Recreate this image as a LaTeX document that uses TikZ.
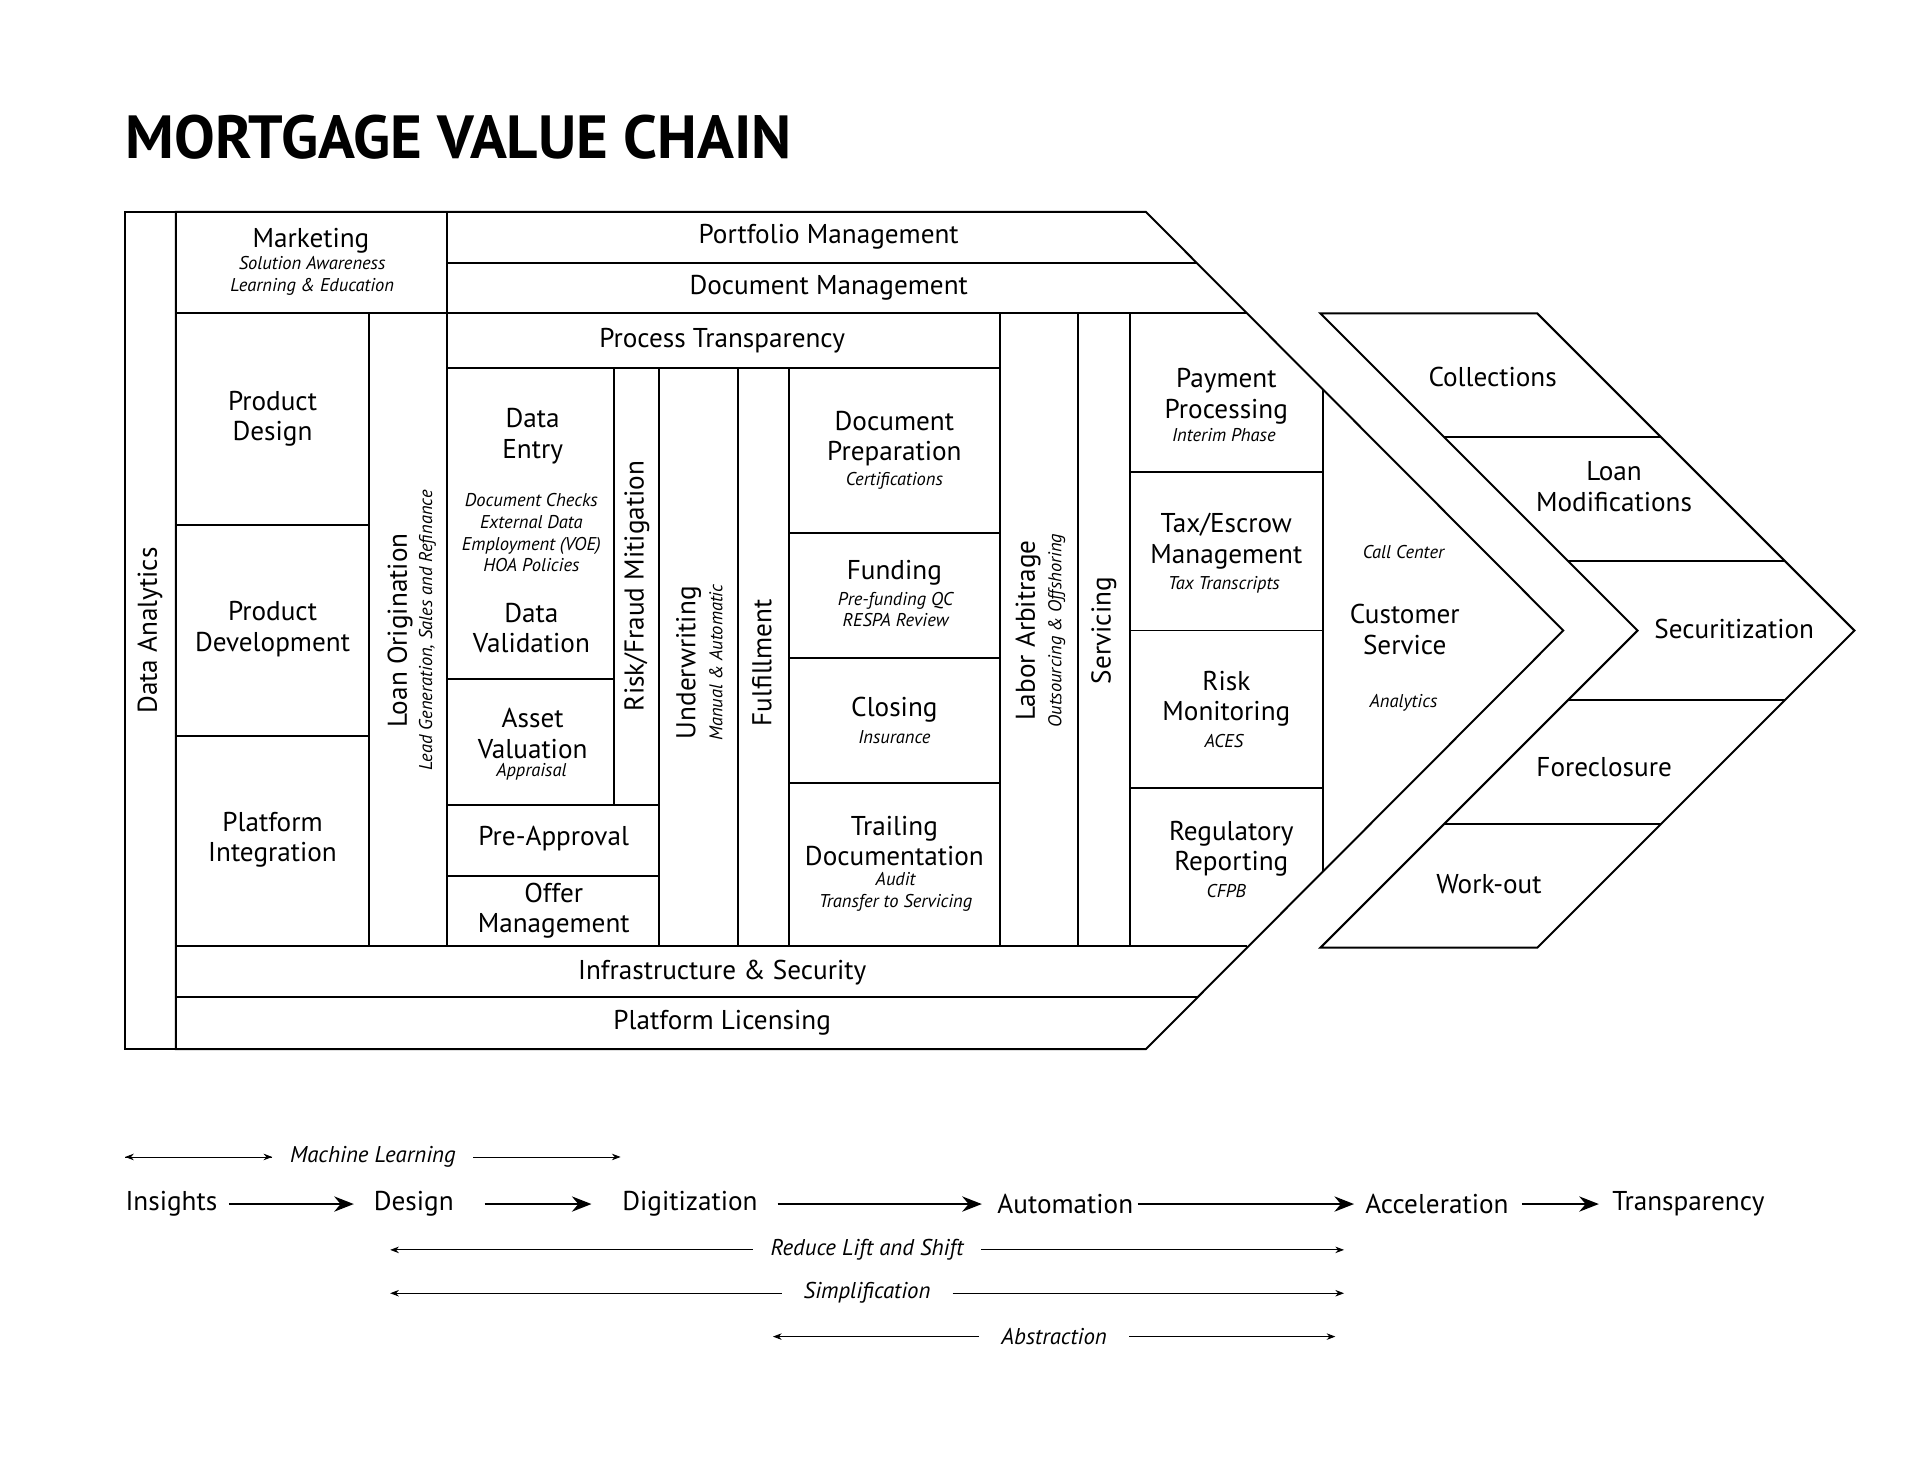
\documentclass[tikz,border=0pt]{standalone}
\usepackage{fontspec}
\setmainfont{PT Sans}
\usetikzlibrary{arrows.meta}
\newcommand\mainf{\fontsize{12.5}{14}\selectfont}
\newcommand\subf{\fontsize{8.5}{10}\selectfont\itshape}
\begin{document}
\begin{tikzpicture}[x=0.02cm, y=-0.02cm,
  box/.style={line width=0.9pt, line join=miter},
  lbl/.style={font=\mainf, align=center, inner sep=0pt},
  sub/.style={font=\subf, align=center, inner sep=0pt},
  flow/.style={-{Stealth[length=9pt,width=7pt]}, line width=0.9pt},
  span/.style={{Stealth[length=4pt,width=3pt]}-{Stealth[length=4pt,width=3pt]}, line width=0.4pt}]
\useasboundingbox (0,0) rectangle (1550,1197);
\node[anchor=base west, inner sep=0pt, font=\fontsize{28}{30}\selectfont\bfseries] (title) at (101,128) {MORTGAGE VALUE CHAIN};
% main chevron
\draw[box] (101,171) rectangle (142,847);
\draw[box] (142,171) -- (925,171) -- (1262,509) -- (925,847) -- (142,847) -- cycle;
\draw[box] (361,171) -- (361,253);
\draw[box] (361,212) -- (966,212);
\draw[box] (142,253) -- (1007,253);
\draw[box] (142,764) -- (1007,764);
\draw[box] (142,805) -- (966,805);
% left columns
\draw[box] (142,424) -- (298,424);
\draw[box] (142,594) -- (298,594);
\draw[box] (298,253) -- (298,764);
\draw[box] (361,253) -- (361,764);
\draw[box] (361,297) -- (807,297);
\draw[box] (496,297) -- (496,650);
\draw[box] (361,548) -- (496,548);
\draw[box] (361,650) -- (532,650);
\draw[box] (361,707) -- (532,707);
\draw[box] (532,297) -- (532,764);
\draw[box] (596,297) -- (596,764);
\draw[box] (637,297) -- (637,764);
\draw[box] (637,430) -- (807,430);
\draw[box] (637,531) -- (807,531);
\draw[box] (637,632) -- (807,632);
\draw[box] (807,253) -- (807,764);
\draw[box] (870,253) -- (870,764);
\draw[box] (912,253) -- (912,764);
\draw[box] (912,381) -- (1068,381);
\draw[box] (912,509) -- (1068,509);
\draw[box] (912,636) -- (1068,636);
\draw[box] (1068,314) -- (1068,704);
% right chevron
\draw[box] (1066,253) -- (1241,253) -- (1497,509) -- (1241,765) -- (1066,765) -- (1322,509) -- cycle;
\draw[box] (1166,353) -- (1341,353);
\draw[box] (1266,453) -- (1441,453);
\draw[box] (1266,565) -- (1441,565);
\draw[box] (1166,665) -- (1341,665);
% labels
\node[lbl, rotate=90] (analytics) at (121,509) {Data Analytics};
\node[lbl] (marketing) at (251,194) {Marketing};
\node[sub] (marketingsub) at (252,223) {Solution Awareness\\Learning \& Education};
\node[lbl] (portfolio) at (669,191) {Portfolio Management};
\node[lbl] (docmgmt) at (669,232) {Document Management};
\node[lbl] (pdesign) at (220,338) {Product\\Design};
\node[lbl] (pdev) at (220,508) {Product\\Development};
\node[lbl] (pinteg) at (220,678) {Platform\\Integration};
\node[lbl, rotate=90] (origination) at (323,509) {Loan Origination};
\node[sub, rotate=90] (originationsub) at (345,509) {Lead Generation, Sales and Refinance};
\node[lbl] (transparency) at (583,275) {Process Transparency};
\node[lbl] (dataentry) at (430,352) {Data\\Entry};
\node[sub] (checks) at (429,430) {Document Checks\\External Data\\Employment (VOE)\\HOA Policies};
\node[lbl] (datavalid) at (429,507) {Data\\Validation};
\node[lbl] (asset) at (430,592) {Asset\\Valuation};
\node[sub] (appraisal) at (429,623) {Appraisal};
\node[lbl, rotate=90] (risk) at (514,473) {Risk/Fraud Mitigation};
\node[lbl] (preapproval) at (447,677) {Pre-Approval};
\node[lbl] (offer) at (447,735) {Offer\\Management};
\node[lbl, rotate=90] (underwriting) at (556,535) {Underwriting};
\node[sub, rotate=90] (underwritingsub) at (578,535) {Manual \& Automatic};
\node[lbl, rotate=90] (fulfillment) at (615,535) {Fulfillment};
\node[lbl] (docprep) at (722,354) {Document\\Preparation};
\node[sub] (certs) at (722,388) {Certifications};
\node[lbl] (funding) at (722,462) {Funding};
\node[sub] (fundingsub) at (723,492) {Pre-funding QC\\RESPA Review};
\node[lbl] (closing) at (722,573) {Closing};
\node[sub] (insurance) at (722,595) {Insurance};
\node[lbl] (trailing) at (722,679) {Trailing\\Documentation};
\node[sub] (trailingsub) at (723,720) {Audit\\Transfer to Servicing};
\node[lbl, rotate=90] (labor) at (830,509) {Labor Arbitrage};
\node[sub, rotate=90] (laborsub) at (853,509) {Outsourcing \& Offshoring};
\node[lbl, rotate=90] (servicing) at (891,509) {Servicing};
\node[lbl] (payment) at (990,320) {Payment\\Processing};
\node[sub] (interim) at (988,351) {Interim Phase};
\node[lbl] (tax) at (990,437) {Tax/Escrow\\Management};
\node[sub] (transcripts) at (988,472) {Tax Transcripts};
\node[lbl] (riskmon) at (990,564) {Risk\\Monitoring};
\node[sub] (aces) at (988,598) {ACES};
\node[lbl] (regulatory) at (994,685) {Regulatory\\Reporting};
\node[sub] (cfpb) at (990,719) {CFPB};
\node[sub] (callcenter) at (1133,446) {Call Center};
\node[lbl] (customer) at (1134,508) {Customer\\Service};
\node[sub] (analyticssub) at (1133,567) {Analytics};
\node[lbl] (infra) at (583,785) {Infrastructure \& Security};
\node[lbl] (licensing) at (583,826) {Platform Licensing};
\node[lbl] (collections) at (1205,304) {Collections};
\node[lbl] (loanmod) at (1303,393) {Loan\\Modifications};
\node[lbl] (securitization) at (1400,508) {Securitization};
\node[lbl] (foreclosure) at (1295,619) {Foreclosure};
\node[lbl] (workout) at (1202,714) {Work-out};
% stages
\node[lbl, anchor=west] (insights) at (101,972) {Insights};
\node[lbl] (design) at (334,972) {Design};
\node[lbl] (digitization) at (557,972) {Digitization};
\node[lbl] (automation) at (860,972) {Automation};
\node[lbl] (acceleration) at (1160,972) {Acceleration};
\node[lbl] (transp) at (1363,972) {Transparency};
\draw[flow] (insights.east) ++(9,0) coordinate (s1) (s1) -- ([xshift=-9pt]design.west);
\draw[flow] ([xshift=14pt]design.east) -- ([xshift=-14pt]digitization.west);
\draw[flow] ([xshift=9pt]digitization.east) -- ([xshift=-7pt]automation.west);
\draw[flow] ([xshift=2pt]automation.east) -- ([xshift=-5pt]acceleration.west);
\draw[flow] ([xshift=6pt]acceleration.east) -- ([xshift=-6pt]transp.west);
% spans
\node[sub, font=\fontsize{10.5}{12}\selectfont\itshape] (ml) at (301,934) {Machine Learning};
\coordinate (mlL) at (101,934); \coordinate (mlR) at (501,934);
\draw[span, -] ([xshift=-8pt]ml.west) -- (mlL) [{Stealth[length=4pt,width=3pt]}-] {};
\draw[-{Stealth[length=4pt,width=3pt]}, line width=0.4pt] ([xshift=-8pt]ml.west) -- (mlL);
\draw[-{Stealth[length=4pt,width=3pt]}, line width=0.4pt] ([xshift=8pt]ml.east) -- (mlR);
\node[sub, font=\fontsize{10.5}{12}\selectfont\itshape] (reduce) at (700,1009) {Reduce Lift and Shift};
\coordinate (reL) at (315,1009); \coordinate (reR) at (1085,1009);
\draw[-{Stealth[length=4pt,width=3pt]}, line width=0.4pt] ([xshift=-8pt]reduce.west) -- (reL);
\draw[-{Stealth[length=4pt,width=3pt]}, line width=0.4pt] ([xshift=8pt]reduce.east) -- (reR);
\node[sub, font=\fontsize{10.5}{12}\selectfont\itshape] (simpl) at (700,1044) {Simplification};
\coordinate (siL) at (315,1044); \coordinate (siR) at (1085,1044);
\draw[-{Stealth[length=4pt,width=3pt]}, line width=0.4pt] ([xshift=-10pt]simpl.west) -- (siL);
\draw[-{Stealth[length=4pt,width=3pt]}, line width=0.4pt] ([xshift=10pt]simpl.east) -- (siR);
\node[sub, font=\fontsize{10.5}{12}\selectfont\itshape] (abstr) at (851,1079) {Abstraction};
\coordinate (abL) at (624,1079); \coordinate (abR) at (1078,1079);
\draw[-{Stealth[length=4pt,width=3pt]}, line width=0.4pt] ([xshift=-10pt]abstr.west) -- (abL);
\draw[-{Stealth[length=4pt,width=3pt]}, line width=0.4pt] ([xshift=10pt]abstr.east) -- (abR);
\end{tikzpicture}
\end{document}
